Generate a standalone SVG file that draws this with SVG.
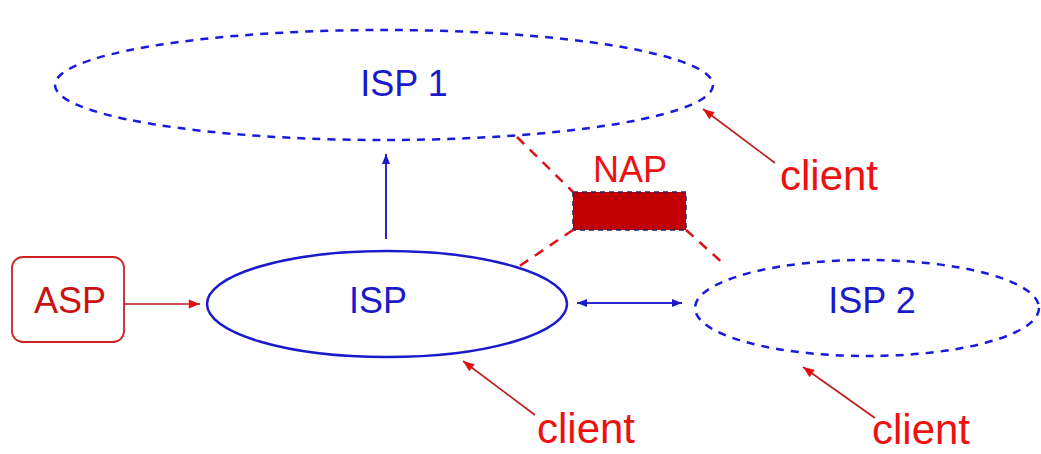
<svg xmlns="http://www.w3.org/2000/svg" width="1041" height="454" viewBox="0 0 1041 454">
<style>
.lbl{font-family:"Liberation Sans",Arial,sans-serif;font-size:36px;text-anchor:middle}
.cl{font-size:42px}
.blue{fill:#1a1acc}
.red{fill:#ee1111}
.dash{fill:none;stroke:#1a1add;stroke-width:2.5;stroke-dasharray:8 7}
.solid{fill:none;stroke:#1a1acc;stroke-width:2.5}
.bl{stroke:#2a2acc;stroke-width:2;fill:none}
.rl{stroke:#c01a1a;stroke-width:1.6;fill:none}
.rd{stroke:#dd1111;stroke-width:2.5;fill:none;stroke-dasharray:10 8}
</style>
<defs>
<marker id="ab" viewBox="0 0 10 10" refX="10" refY="5" markerWidth="6" markerHeight="5" orient="auto-start-reverse" markerUnits="strokeWidth"><path d="M0,1 L10,5 L0,9 z" fill="#1a1acc"/></marker>
<marker id="ar" viewBox="0 0 10 10" refX="10" refY="5" markerWidth="9" markerHeight="7" orient="auto" markerUnits="strokeWidth"><path d="M0,1 L10,5 L0,9 z" fill="#e01010"/></marker>
</defs>
<g id="isp1"><ellipse class="dash" cx="384" cy="85" rx="329" ry="55"/><text class="lbl blue" x="404" y="96">ISP 1</text></g>
<g id="isp"><ellipse class="solid" cx="387" cy="304" rx="180" ry="53"/><text class="lbl blue" x="378" y="313">ISP</text></g>
<g id="isp2"><ellipse class="dash" cx="867" cy="308" rx="172" ry="48"/><text class="lbl blue" x="872" y="313">ISP 2</text></g>
<g id="asp"><rect x="12" y="257" width="112" height="85" rx="11" fill="none" stroke="#cc2222" stroke-width="1.8"/><text class="lbl" fill="#cc1111" x="70" y="313">ASP</text></g>
<g id="nap"><rect x="573" y="192" width="113" height="38" fill="#c00000" stroke="#22226a" stroke-width="1.5" stroke-dasharray="5 4"/><text class="lbl red" x="630" y="182">NAP</text></g>
<g id="client1"><text class="lbl cl red" x="829" y="190">client</text></g>
<g id="client2"><text class="lbl cl red" x="586" y="443">client</text></g>
<g id="client3"><text class="lbl cl red" x="921" y="444">client</text></g>
<g id="connectors">
<line class="rl" x1="124" y1="304" x2="200" y2="304" marker-end="url(#ar)"/>
<line class="bl" x1="386" y1="239" x2="386" y2="154" marker-end="url(#ab)"/>
<line class="bl" x1="577" y1="303" x2="682" y2="303" marker-start="url(#ab)" marker-end="url(#ab)"/>
<line class="rd" x1="517" y1="137" x2="573" y2="192"/>
<line class="rd" x1="573" y1="230" x2="518" y2="267"/>
<line class="rd" x1="686" y1="230" x2="725" y2="265"/>
<line class="rl" x1="775" y1="163" x2="703" y2="109" marker-end="url(#ar)"/>
<line class="rl" x1="535" y1="415" x2="463" y2="361" marker-end="url(#ar)"/>
<line class="rl" x1="875" y1="418" x2="803" y2="367" marker-end="url(#ar)"/>
</g>
</svg>
